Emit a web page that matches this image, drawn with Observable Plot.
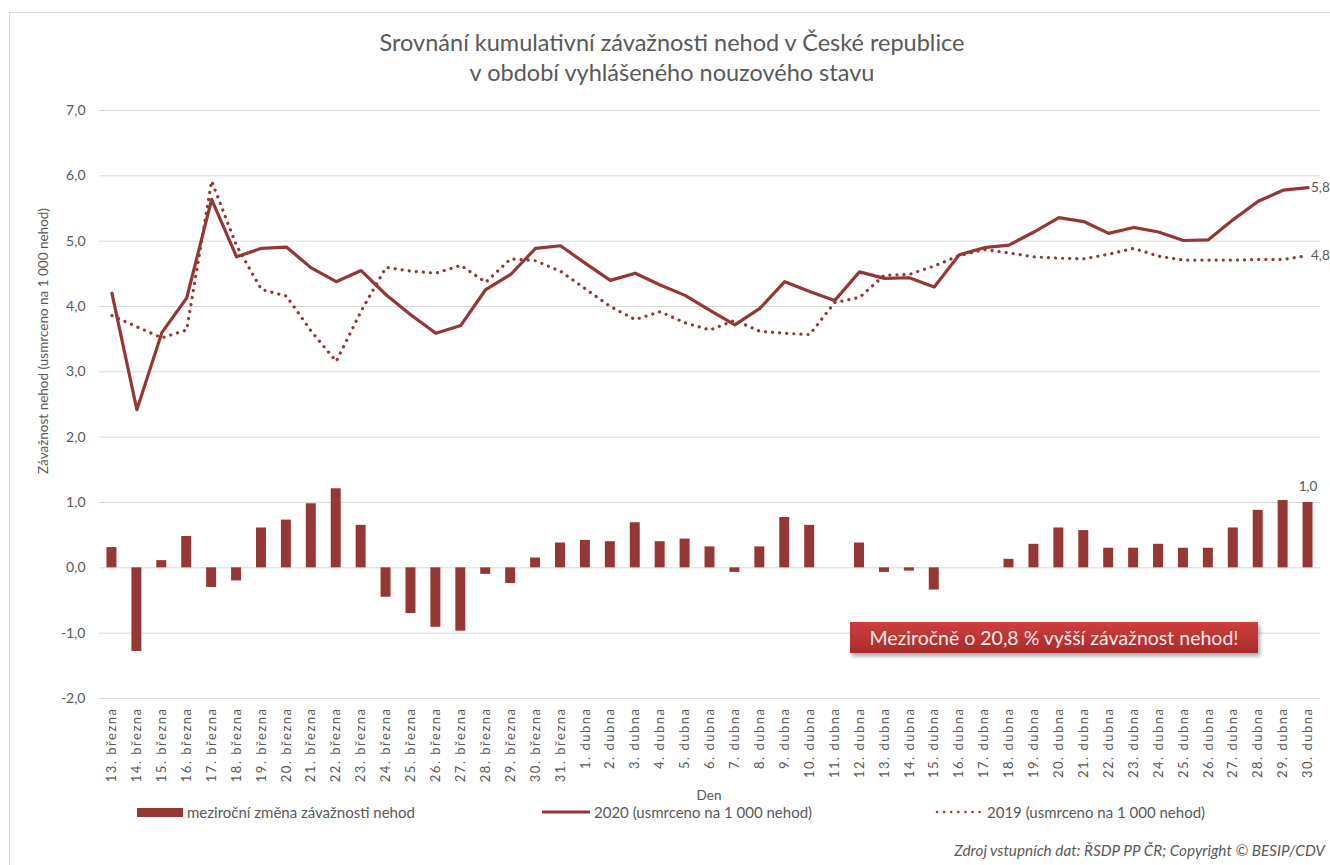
<!DOCTYPE html>
<html><head><meta charset="utf-8">
<script src="https://cdn.jsdelivr.net/npm/d3@7"></script>
<script src="https://cdn.jsdelivr.net/npm/@observablehq/plot@0.6"></script>
<style>
body{margin:0;background:#fff;font-family:Lato,"Open Sans",sans-serif;color:#595959;}
#wrap{position:relative;width:1330px;height:865px;overflow:hidden;}
#frame{position:absolute;left:9px;top:12px;width:1340px;height:880px;border:1px solid #d9d9d9;box-sizing:border-box;}
#chart{position:absolute;left:0;top:0;}
#chart g[aria-label="x-axis tick label"] text{letter-spacing:1.5px;}
#title{position:absolute;left:0;width:1344px;top:27px;text-align:center;font-size:23.5px;line-height:30px;color:#595959;}
#ylab{position:absolute;left:43px;top:341px;transform:translate(-50%,-50%) rotate(-90deg);white-space:nowrap;font-size:13.5px;}
#xlab{position:absolute;left:709px;top:787px;transform:translateX(-50%);font-size:13.5px;}
.leg{position:absolute;top:803px;font-size:15px;white-space:nowrap;display:flex;align-items:center;}
.sw{display:inline-block;margin-right:4px;}
#caption{position:absolute;right:5px;top:841px;font-size:15.3px;font-style:italic;white-space:nowrap;}
#note{position:absolute;left:850px;top:622px;width:408px;height:31px;line-height:31px;text-align:center;
  background:linear-gradient(#cd3f3e,#a92b2b);color:#fbeaea;font-size:19.5px;box-shadow:2px 3px 4px rgba(0,0,0,0.35);}
</style></head>
<body>
<div id="wrap">
  <div id="frame"></div>
  <div id="chart"></div>
  <div id="title">Srovnání kumulativní závažnosti nehod v České republice<br>v období vyhlášeného nouzového stavu</div>
  <div id="ylab">Závažnost nehod (usmrceno na 1 000 nehod)</div>
  <div id="xlab">Den</div>
  <div class="leg" style="left:137px"><span class="sw" style="width:46px;height:9px;background:#953735"></span>meziroční změna závažnosti nehod</div>
  <div class="leg" style="left:542px"><svg class="sw" width="48" height="10"><line x1="1" y1="5" x2="47" y2="5" stroke="#953735" stroke-width="3" stroke-linecap="round"/></svg>2020 (usmrceno na 1 000 nehod)</div>
  <div class="leg" style="left:935px"><svg class="sw" width="48" height="10"><line x1="2" y1="5" x2="47" y2="5" stroke="#953735" stroke-width="2.5" stroke-dasharray="0.1,7" stroke-linecap="round"/></svg>2019 (usmrceno na 1 000 nehod)</div>
  <div id="caption">Zdroj vstupních dat: ŘSDP PP ČR; Copyright © BESIP/CDV</div>
  <div id="note">Meziročně o 20,8 % vyšší závažnost nehod!</div>
</div>
<script>
const days = ["13. března","14. března","15. března","16. března","17. března","18. března","19. března","20. března","21. března","22. března","23. března","24. března","25. března","26. března","27. března","28. března","29. března","30. března","31. března",
  "1. dubna","2. dubna","3. dubna","4. dubna","5. dubna","6. dubna","7. dubna","8. dubna","9. dubna","10. dubna","11. dubna","12. dubna","13. dubna","14. dubna","15. dubna","16. dubna","17. dubna","18. dubna","19. dubna","20. dubna","21. dubna","22. dubna","23. dubna","24. dubna","25. dubna","26. dubna","27. dubna","28. dubna","29. dubna","30. dubna"];
const change = [0.31,-1.28,0.11,0.48,-0.30,-0.20,0.61,0.73,0.98,1.21,0.65,-0.45,-0.70,-0.91,-0.97,-0.10,-0.24,0.15,0.38,
  0.42,0.40,0.69,0.40,0.44,0.32,-0.07,0.32,0.77,0.65,0,0.38,-0.07,-0.05,-0.34,0,0,0.13,0.36,0.61,0.57,0.30,0.30,0.36,0.30,0.30,0.61,0.88,1.03,1.00];
const s2020 = [4.20,2.42,3.60,4.13,5.64,4.76,4.89,4.91,4.59,4.38,4.55,4.18,3.87,3.59,3.71,4.26,4.49,4.89,4.93,
  4.66,4.40,4.51,4.33,4.17,3.94,3.72,3.97,4.38,4.23,4.09,4.53,4.43,4.44,4.30,4.79,4.90,4.94,5.14,5.36,5.30,5.12,5.21,5.14,5.01,5.02,5.33,5.61,5.78,5.82];
const s2019 = [3.86,3.69,3.52,3.64,5.92,4.93,4.26,4.16,3.62,3.16,3.93,4.60,4.54,4.51,4.63,4.37,4.73,4.70,4.54,
  4.27,4.00,3.80,3.92,3.75,3.64,3.79,3.62,3.59,3.57,4.06,4.14,4.48,4.49,4.62,4.78,4.87,4.82,4.76,4.74,4.73,4.80,4.89,4.77,4.71,4.71,4.71,4.72,4.72,4.78];
const yTicks = [-2,-1,0,1,2,3,4,5,6,7];

const color = "#953735";
const fmt = d => d3.format(".1f")(d).replace(".", ",").replace("−","-");
const data = days.map((d, i) => ({day: d, change: change[i], v2020: s2020[i], v2019: s2019[i]}));
const last = data[data.length - 1];

const chart = Plot.plot({
  width: 1330, height: 810,
  marginTop: 110, marginBottom: 112, marginLeft: 99, marginRight: 10,
  style: {fontFamily: "Lato, 'Open Sans', sans-serif", color: "#595959", background: "transparent", overflow: "visible"},
  x: {type: "band", domain: days, paddingInner: 0.6, paddingOuter: 0.3, label: null},
  y: {domain: [-2, 7], label: null},
  marks: [
    Plot.ruleY(yTicks, {stroke: "#d9d9d9", strokeWidth: 1}),
    Plot.axisY({ticks: yTicks, tickFormat: fmt, tickSize: 0, tickPadding: 14, fontSize: 14, label: null}),
    Plot.axisX({tickRotate: -90, tickSize: 0, tickPadding: 9, fontSize: 13, label: null}),
    Plot.barY(data, {x: "day", y: "change", fill: color}),
    Plot.lineY(data, {x: "day", y: "v2019", stroke: color, strokeWidth: 3.2, strokeDasharray: "0.1,7", strokeLinecap: "round"}),
    Plot.lineY(data, {x: "day", y: "v2020", stroke: color, strokeWidth: 3.2, strokeLinejoin: "round"}),
    Plot.text([last], {x: "day", y: "v2020", text: d => fmt(d.v2020), textAnchor: "start", dx: 3, fontSize: 13.5}),
    Plot.text([last], {x: "day", y: "v2019", text: d => fmt(d.v2019), textAnchor: "start", dx: 3, fontSize: 13.5}),
    Plot.text([last], {x: "day", y: "change", text: d => fmt(d.change), dy: -16, fontSize: 13.5})
  ]
});
document.getElementById("chart").appendChild(chart);
</script>
</body></html>
